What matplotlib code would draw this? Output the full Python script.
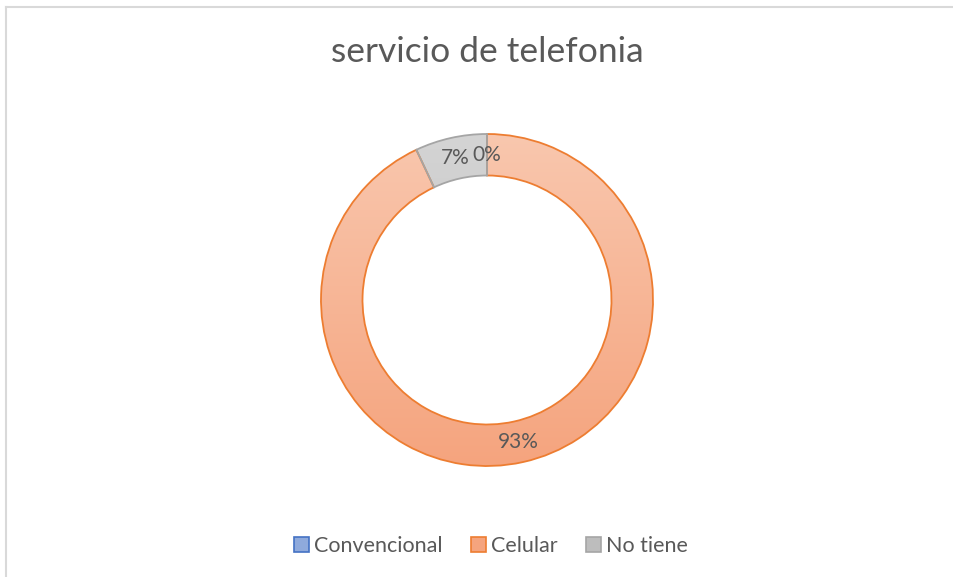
import numpy as np
import matplotlib
matplotlib.use("Agg")
import matplotlib.pyplot as plt
from matplotlib.colors import LinearSegmentedColormap
from matplotlib.lines import Line2D
from matplotlib.patches import Rectangle

labels = ["Convencional", "Celular", "No tiene"]
values = [0, 93, 7]
pct_text = ["0%", "93%", "7%"]

edge_colors = ["#4472C4", "#ED7D31", "#A5A5A5"]
# gradient top -> bottom
grad_colors = [("#B4C7E7", "#8FAADC"), ("#F9C7AE", "#F5A47E"), ("#D4D4D4", "#BDBDBD")]

plt.rcParams["font.family"] = ["Lato", "DejaVu Sans"]

W, H = 954, 577
fig = plt.figure(figsize=(W / 100, H / 100), dpi=100)

# chart frame (only top and left edges fall inside the picture)
fig.add_artist(Line2D([6 / W, 6 / W], [0, 1 - 7 / H], color="#D9D9D9", lw=1.5))
fig.add_artist(Line2D([6 / W, 1], [1 - 7 / H, 1 - 7 / H], color="#D9D9D9", lw=1.5))

cx, cy, r_px = 487, 300, 166
half = 1.2 * r_px
ax = fig.add_axes([(cx - half) / W, (H - cy - half) / H, 2 * half / W, 2 * half / H])
ax.axis("off")

wedges, _ = ax.pie(values, startangle=90, counterclock=False, radius=1.0,
                   colors=["none"] * 3,
                   wedgeprops=dict(width=0.25, linewidth=1.3))

for w, ec, (c_top, c_bot) in zip(wedges, edge_colors, grad_colors):
    w.set_edgecolor(ec)
    w.set_zorder(3)
    cmap = LinearSegmentedColormap.from_list("g", [c_bot, c_top])
    grad = np.linspace(0, 1, 256).reshape(-1, 1)
    im = ax.imshow(grad, cmap=cmap, extent=[-1, 1, -1, 1], origin="lower",
                   aspect="auto", zorder=2, interpolation="bicubic")
    im.set_clip_path(w)
ax.set_xlim(-1.2, 1.2)
ax.set_ylim(-1.2, 1.2)
ax.set_aspect("equal")

# percentage labels at ring middle
total = sum(values)
start = 90.0
for v, t in zip(values, pct_text):
    mid = start - 360.0 * v / total / 2
    start -= 360.0 * v / total
    rr = 0.875
    x = rr * np.cos(np.radians(mid))
    y = rr * np.sin(np.radians(mid))
    ax.text(x, y, t, ha="center", va="center", fontsize=15, color="#595959", zorder=5)

fig.text(cx / W, 1 - 52 / H, "servicio de telefonia", ha="center", va="center",
         fontsize=25.5, color="#595959")

handles = [Rectangle((0, 0), 1, 1, facecolor=gc[1], edgecolor=ec, lw=1.2)
           for gc, ec in zip(grad_colors, edge_colors)]
fig.legend(handles, labels, loc="center", bbox_to_anchor=(491 / W, 1 - 546 / H),
           ncol=3, frameon=False, fontsize=15.5, labelcolor="#595959",
           handlelength=0.7, handleheight=0.7, handletextpad=0.25, columnspacing=1.3)

fig.savefig("out.png", dpi=100)
